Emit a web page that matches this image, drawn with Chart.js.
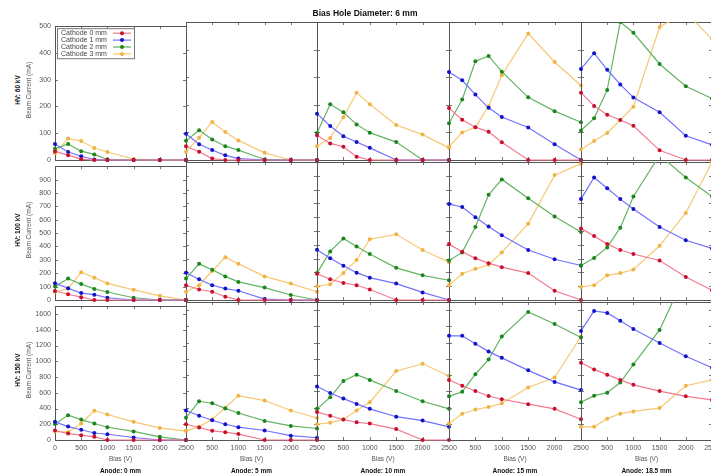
<!DOCTYPE html>
<html>
<head>
<meta charset="utf-8">
<script src="https://cdn.jsdelivr.net/npm/chart.js@4.4.0/dist/chart.umd.min.js"></script>
<style>
  body { margin: 0; background: #fff; width: 711px; height: 476px; overflow: hidden; position: relative;
         font-family: 'Liberation Sans', Arial, sans-serif; }
  .panel { position: absolute; }
  .lbl { position: absolute; white-space: nowrap; transform: translate(-50%, -50%); line-height: 1; }
  .rot { transform: translate(-50%, -50%) rotate(-90deg); }
</style>
</head>
<body>
<script>
// bias voltage (V) on x, beam current (mA) on y
const bias = [0, 250, 500, 750, 1000, 1500, 2000, 2500];
const xTicks = [0, 500, 1000, 1500, 2000, 2500];
const cathodes = ['Cathode 0 mm', 'Cathode 1 mm', 'Cathode 2 mm', 'Cathode 3 mm'];
const anodes = ['Anode: 0 mm', 'Anode: 5 mm', 'Anode: 10 mm', 'Anode: 15 mm', 'Anode: 18.5 mm'];
const hvLabels = ['HV: 60 kV', 'HV: 100 kV', 'HV: 150 kV'];
const yMax = [500, 1000, 1700];
const yStep = [100, 100, 200];

// each panel: cathode 0, 1, 2, 3
const hv60_a0  = [[32,18,3,0,0,0,0,0], [60,30,14,2,0,0,0,0], [42,60,33,21,2,0,0,0], [25,80,71,45,30,3,0,0]];
const hv60_a5  = [[50,30,5,0,0,0,0,0], [95,57,36,17,5,0,0,0], [70,108,74,50,36,2,0,0], [30,81,138,101,71,26,0,0]];
const hv60_a10 = [[90,60,48,12,0,0,0,0], [168,123,86,65,44,0,0,0], [98,202,173,129,99,65,0,0], [50,80,155,244,202,127,92,44]];
const hv60_a15 = [[188,146,119,102,64,0,0,0], [319,289,237,189,156,118,57,0], [133,219,358,377,320,227,177,137], [48,100,119,195,307,458,355,270]];
const hv60_a18 = [[244,196,164,145,124,35,0,0], [330,387,327,274,226,173,88,55], [107,151,254,500,461,348,267,223], [38,69,98,145,193,482,535,438]];

const hv100_a0  = [[67,43,21,0,0,0,0,0], [126,88,52,40,17,0,0,0], [100,160,119,83,60,17,0,0], [60,85,207,167,124,76,31,0]];
const hv100_a5  = [[107,76,60,24,0,0,0,0], [198,150,107,83,67,7,0,0], [155,262,219,171,131,90,36,0], [60,107,210,310,262,171,119,60]];
const hv100_a10 = [[190,150,124,107,76,0,0,0], [364,302,248,198,162,119,55,0], [195,352,445,388,333,233,179,143], [100,114,195,290,440,476,362,274]];
const hv100_a15 = [[405,350,302,267,238,195,67,0], [695,674,600,533,469,362,295,250], [286,345,529,762,874,738,605,493], [107,190,226,255,345,552,905,988]];
const hv100_a18 = [[519,464,405,362,333,286,167,71], [731,888,810,731,660,529,433,374], [250,305,381,524,750,1050,888,750], [95,107,179,195,221,393,631,1000]];

const hv150_a0  = [[121,81,61,40,0,0,0,0], [231,170,130,89,73,32,0,0], [202,316,259,210,162,109,40,0], [110,100,210,372,324,231,154,113]];
const hv150_a5  = [[194,154,113,97,73,0,0,0], [364,299,243,194,158,117,53,28], [275,477,453,389,332,235,174,142], [113,162,255,397,546,486,364,271]];
const hv150_a10 = [[344,299,251,219,202,134,0,0], [660,579,510,445,384,287,239,162], [384,526,728,805,740,603,477,384], [194,214,251,364,465,850,939,789]];
const hv150_a15 = [[740,668,603,542,502,441,384,255], [1283,1283,1186,1089,1012,858,716,615], [538,595,810,992,1275,1578,1429,1263], [202,324,376,405,453,647,769,1275]];
const hv150_a18 = [[951,870,805,740,680,603,538,494], [1344,1590,1566,1469,1368,1194,1032,890], [465,546,583,708,931,1356,2050,2400], [162,162,263,324,352,393,668,740]];

const panels = [
  [hv60_a0, hv60_a5, hv60_a10, hv60_a15, hv60_a18],
  [hv100_a0, hv100_a5, hv100_a10, hv100_a15, hv100_a18],
  [hv150_a0, hv150_a5, hv150_a10, hv150_a15, hv150_a18]
];

const lineColors = ['#f27a8e', '#7272ff', '#62b462', '#f6c874'];
const markColors = ['#c8102e', '#1212c8', '#1b861b', '#f0b444'];

const colL = [55, 186, 317, 449, 581, 712];
const rowT = [20, 160, 300, 440];
const padL = 30, padR = 12, padT = 2, padB = 12;
const FONT = "'Liberation Sans', Arial, sans-serif";
const tickGray = '#555';

// frame + inward ticks like the original plot
const framePlugin = {
  id: 'frame',
  beforeDatasetsDraw(chart) {
    const { ctx, chartArea: a, scales } = chart;
    ctx.save();
    ctx.strokeStyle = '#777';
    ctx.lineWidth = 1;
    ctx.beginPath();
    scales.x.ticks.forEach(t => {
      const px = Math.round(scales.x.getPixelForValue(t.value)) + 0.5;
      ctx.moveTo(px, a.bottom); ctx.lineTo(px, a.bottom - 3);
      ctx.moveTo(px, a.top); ctx.lineTo(px, a.top + 3);
    });
    scales.y.ticks.forEach(t => {
      const py = Math.round(scales.y.getPixelForValue(t.value)) + 0.5;
      ctx.moveTo(a.left, py); ctx.lineTo(a.left + 3, py);
      ctx.moveTo(a.right, py); ctx.lineTo(a.right - 3, py);
    });
    ctx.stroke();
    ctx.strokeStyle = '#555';
    ctx.strokeRect(Math.round(a.left) + 0.5, Math.round(a.top) + 0.5,
                   Math.round(a.right - a.left), Math.round(a.bottom - a.top));
    ctx.restore();
  }
};

// gnuplot style key inside the first panel
const keyPlugin = {
  id: 'key',
  afterDraw(chart) {
    if (!chart.options.plugins.key.show) return;
    const { ctx, chartArea: a } = chart;
    const bx = a.left + 2, by = a.top + 2, bw = 77, bh = 30;
    ctx.save();
    ctx.fillStyle = '#fff';
    ctx.fillRect(bx, by, bw, bh);
    ctx.strokeStyle = '#777';
    ctx.lineWidth = 1;
    ctx.strokeRect(bx + 0.5, by + 0.5, bw, bh);
    ctx.font = '7px ' + FONT;
    ctx.textBaseline = 'middle';
    chart.data.datasets.forEach((ds, i) => {
      const y = by + 5 + i * 6.9;
      ctx.fillStyle = '#444';
      ctx.fillText(ds.label, bx + 4, y);
      ctx.strokeStyle = ds.borderColor;
      ctx.lineWidth = 1.2;
      ctx.beginPath();
      ctx.moveTo(bx + 56, y); ctx.lineTo(bx + 74, y);
      ctx.stroke();
      ctx.fillStyle = ds.pointBackgroundColor;
      ctx.beginPath();
      ctx.arc(bx + 65, y, 2, 0, Math.PI * 2);
      ctx.fill();
    });
    ctx.restore();
  }
};

function makePanel(r, c) {
  const w = colL[c + 1] - colL[c];
  const h = rowT[r + 1] - rowT[r];
  const div = document.createElement('div');
  div.className = 'panel';
  div.style.left = (colL[c] - padL) + 'px';
  div.style.top = (rowT[r] - padT) + 'px';
  const cv = document.createElement('canvas');
  cv.width = padL + w + padR;
  cv.height = padT + h + padB;
  cv.style.width = cv.width + 'px';
  cv.style.height = cv.height + 'px';
  div.appendChild(cv);
  document.body.appendChild(div);

  const series = panels[r][c];
  const datasets = series.map((vals, i) => ({
    label: cathodes[i],
    data: bias.map((b, j) => ({ x: b, y: vals[j] })),
    borderColor: lineColors[i],
    backgroundColor: lineColors[i],
    pointBackgroundColor: markColors[i],
    pointBorderColor: markColors[i],
    pointRadius: 2,
    pointBorderWidth: 0,
    borderWidth: 1.2,
    tension: 0,
    clip: { left: 5, right: 5, top: 0, bottom: 5 }
  }));

  new Chart(cv, {
    type: 'line',
    data: { datasets },
    options: {
      responsive: false,
      animation: false,
      devicePixelRatio: 1,
      events: [],
      layout: { padding: { top: padT, right: padR, left: 0, bottom: 0 } },
      plugins: { legend: { display: false }, tooltip: { enabled: false }, key: { show: r === 0 && c === 0 } },
      scales: {
        x: {
          type: 'linear', min: 0, max: 2500,
          afterBuildTicks: s => { s.ticks = xTicks.map(v => ({ value: v })); },
          afterFit: s => { s.height = padB; },
          grid: { display: false, drawTicks: false },
          border: { display: false },
          ticks: {
            display: r === 2,
            padding: 4,
            maxRotation: 0,
            autoSkip: false,
            color: tickGray,
            font: { family: FONT, size: 7 },
            callback: v => (c > 0 && v === 0) ? '' : String(v)
          }
        },
        y: {
          type: 'linear', min: 0, max: yMax[r],
          afterFit: s => { s.width = padL; },
          grid: { display: false, drawTicks: false },
          border: { display: false },
          ticks: {
            display: c === 0,
            stepSize: yStep[r],
            includeBounds: false,
            padding: 4,
            autoSkip: false,
            color: tickGray,
            font: { family: FONT, size: 7 },
            callback: v => (r > 0 && v === yMax[r]) ? '' : String(v)
          }
        }
      }
    },
    plugins: [framePlugin, keyPlugin]
  });
}

function addLabel(text, x, y, css, rotate) {
  const d = document.createElement('div');
  d.className = 'lbl' + (rotate ? ' rot' : '');
  d.textContent = text;
  d.style.left = x + 'px';
  d.style.top = y + 'px';
  d.style.cssText += css;
  document.body.appendChild(d);
}

for (let r = 0; r < 3; r++) {
  for (let c = 0; c < 5; c++) makePanel(r, c);
}

addLabel('Bias Hole Diameter: 6 mm', 365, 13, 'font-size:8.5px;font-weight:bold;color:#111;');
for (let r = 0; r < 3; r++) {
  const cy = (rowT[r] + rowT[r + 1]) / 2;
  addLabel(hvLabels[r], 18, cy, 'font-size:6.5px;font-weight:bold;color:#111;', true);
  addLabel('Beam Current (mA)', 29, cy, 'font-size:6.5px;color:#555;', true);
}
for (let c = 0; c < 5; c++) {
  const cx = (colL[c] + colL[c + 1]) / 2;
  addLabel('Bias (V)', cx, 459, 'font-size:6.5px;color:#555;');
  addLabel(anodes[c], cx, 471, 'font-size:6.5px;font-weight:bold;color:#111;');
}
</script>
</body>
</html>
